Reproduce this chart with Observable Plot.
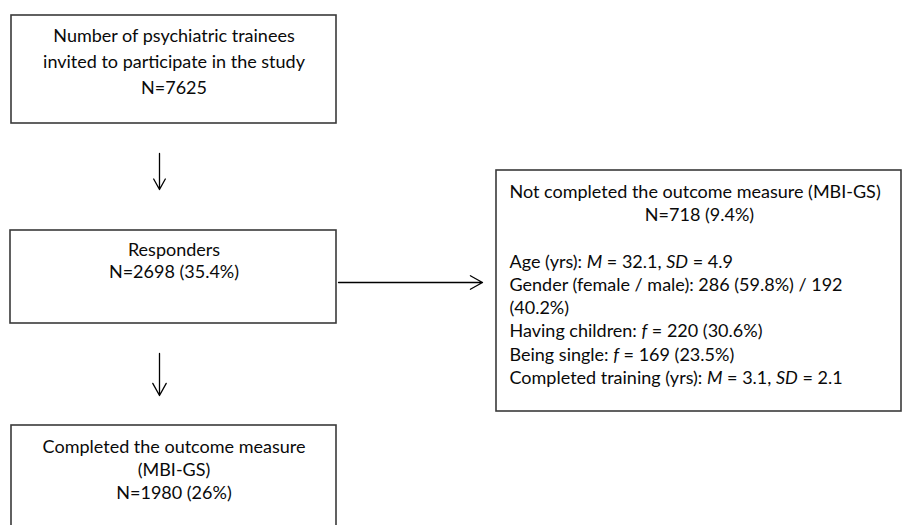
<!DOCTYPE html>
<html><head><meta charset="utf-8">
<script src="https://cdn.jsdelivr.net/npm/d3@7"></script>
<script src="https://cdn.jsdelivr.net/npm/@observablehq/plot@0.6"></script>
<style>
body{margin:0;background:#fff}
#chart{width:902px;height:525px;overflow:hidden;background:#fff}
</style>
</head><body><div id="chart"></div>
<script>
// ---------------- data ----------------
const invitedN = 7625;
const respondersN = 2698, respondersPct = 35.4;
const notCompletedN = 718, notCompletedPct = 9.4;
const completedN = 1980, completedPct = 26;

const ageMean = 32.1, ageSD = 4.9;
const femaleN = 286, femalePct = 59.8, maleN = 192, malePct = 40.2;
const childrenF = 220, childrenPct = 30.6;
const singleF = 169, singlePct = 23.5;
const trainingMean = 3.1, trainingSD = 2.1;

const boxIds = ["invited", "responders", "notCompleted", "completed"];
const boxTitles = [
  ["Number of psychiatric trainees", "invited to participate in the study"],
  ["Responders"],
  ["Not completed the outcome measure (MBI-GS)"],
  ["Completed the outcome measure", "(MBI-GS)"]
];
const countLabels = [
  `N=${invitedN}`,
  `N=${respondersN} (${respondersPct}%)`,
  `N=${notCompletedN} (${notCompletedPct}%)`,
  `N=${completedN} (${completedPct}%)`
];
// *x* marks italic text
const detailLines = [
  `Age (yrs): *M* = ${ageMean}, *SD* = ${ageSD}`,
  `Gender (female / male): ${femaleN} (${femalePct}%) / ${maleN}`,
  `(${malePct}%)`,
  `Having children: *f* = ${childrenF} (${childrenPct}%)`,
  `Being single: *f* = ${singleF} (${singlePct}%)`,
  `Completed training (yrs): *M* = ${trainingMean}, *SD* = ${trainingSD}`
];
const flows = [["invited", "responders"], ["responders", "notCompleted"], ["responders", "completed"]];

// ---------------- layout (separate from data) ----------------
const boxLayout = {
  invited:      {x1: 11,  x2: 336, y1: 15,  y2: 123, top: 36,  lh: 26,   cx: 173.5},
  responders:   {x1: 10,  x2: 336, y1: 230, y2: 323, top: 250, lh: 22,   cx: 173.5},
  notCompleted: {x1: 496, x2: 901, y1: 170, y2: 411, top: 192, lh: 23.2, cx: 699, left: 509, titleLeft: true},
  completed:    {x1: 11,  x2: 336, y1: 425, y2: 532, top: 447, lh: 23,   cx: 173.5}
};
const arrowLayout = [
  {x1: 159, y1: 153, x2: 159, y2: 189},
  {x1: 338, y1: 282, x2: 482, y2: 282},
  {x1: 159, y1: 353, x2: 159, y2: 395}
];

// ---------------- tables ----------------
const boxes = boxIds.map(id => ({id, ...boxLayout[id]}));
const texts = [];
boxIds.forEach((id, i) => {
  const L = boxLayout[id];
  boxTitles[i].forEach((t, j) => texts.push(L.titleLeft
    ? {x: L.left, y: L.top + j * L.lh, text: t, anchor: "start"}
    : {x: L.cx, y: L.top + j * L.lh, text: t, anchor: "middle"}));
  const n = boxTitles[i].length;
  texts.push({x: L.cx, y: L.top + n * L.lh, text: countLabels[i], anchor: "middle"});
  if (id === "notCompleted") {
    const start = n + 2;
    detailLines.forEach((t, j) => texts.push({x: L.left, y: L.top + (start + j) * L.lh, text: t, anchor: "start"}));
  }
});
const arrows = flows.map((f, i) => ({from: f[0], to: f[1], ...arrowLayout[i]}));

const FONT = "Lato, 'Open Sans', sans-serif";
const FS = 18;

const plot = Plot.plot({
  width: 902,
  height: 525,
  margin: 0,
  style: {fontFamily: FONT, overflow: "hidden", background: "#fff"},
  x: {domain: [0, 902], range: [0, 902], axis: null},
  y: {domain: [0, 525], range: [0, 525], axis: null},
  marks: [
    Plot.rect(boxes, {x1: "x1", x2: "x2", y1: "y1", y2: "y2", fill: "none", stroke: "#3a3a3a", strokeWidth: 1.6}),
    Plot.arrow(arrows, {x1: "x1", y1: "y1", x2: "x2", y2: "y2", stroke: "#000", strokeWidth: 1.3, headLength: 16, headAngle: 58}),
    Plot.text(texts.filter(d => d.anchor === "middle"), {x: "x", y: "y", text: "text", textAnchor: "middle", fontSize: FS, fill: "#0a0a0a", fontFamily: FONT}),
    Plot.text(texts.filter(d => d.anchor === "start"), {x: "x", y: "y", text: "text", textAnchor: "start", fontSize: FS, fill: "#0a0a0a", fontFamily: FONT})
  ]
});

// italic segments
plot.querySelectorAll("text").forEach(t => {
  const s = t.textContent;
  if (!s.includes("*")) return;
  t.textContent = "";
  s.split("*").forEach((part, i) => {
    if (!part) return;
    const ts = document.createElementNS("http://www.w3.org/2000/svg", "tspan");
    ts.textContent = part;
    if (i % 2 === 1) ts.setAttribute("font-style", "italic");
    t.appendChild(ts);
  });
});

document.getElementById("chart").appendChild(plot);
</script>
</body></html>
